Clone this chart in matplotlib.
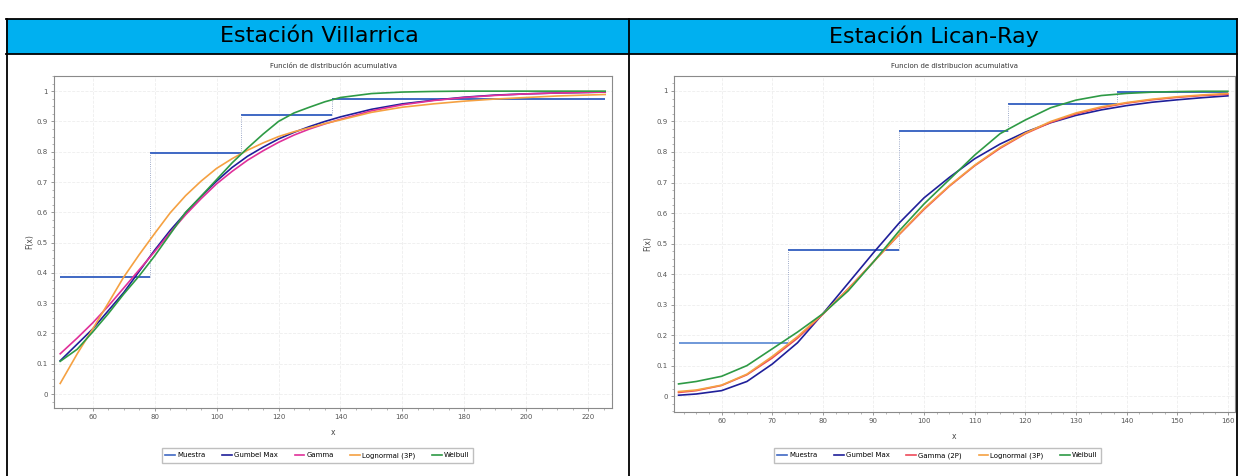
import matplotlib
matplotlib.use("Agg")
import matplotlib.pyplot as plt
from matplotlib.ticker import AutoMinorLocator
from matplotlib.patches import Rectangle
from matplotlib.lines import Line2D

# ---------------- data ----------------
headers = ["Estación Villarrica", "Estación Lican-Ray"]
titles = ["Función de distribución acumulativa", "Funcion de distribucion acumulativa"]
labels_v = ["Muestra", "Gumbel Max", "Gamma", "Lognormal (3P)", "Weibull"]
labels_l = ["Muestra", "Gumbel Max", "Gamma (2P)", "Lognormal (3P)", "Weibull"]

# Villarrica
v_x = [49.5, 55, 60, 65, 70, 75, 80, 85, 90, 95, 100, 105, 110, 115, 120, 125, 130, 135,
       140, 150, 160, 170, 180, 190, 200, 210, 225.5]
v_gumbel = [0.11, 0.165, 0.215, 0.275, 0.335, 0.405, 0.475, 0.54, 0.598, 0.652, 0.703,
            0.748, 0.785, 0.815, 0.842, 0.864, 0.883, 0.9, 0.915, 0.94, 0.958, 0.97, 0.98,
            0.987, 0.991, 0.994, 0.997]
v_gamma = [0.133, 0.185, 0.235, 0.29, 0.35, 0.41, 0.47, 0.533, 0.592, 0.645, 0.694,
           0.735, 0.772, 0.803, 0.831, 0.855, 0.875, 0.892, 0.907, 0.935, 0.955, 0.969,
           0.979, 0.986, 0.991, 0.994, 0.997]
v_lognorm = [0.035, 0.133, 0.215, 0.3, 0.386, 0.46, 0.53, 0.598, 0.655, 0.703, 0.745,
             0.777, 0.805, 0.829, 0.85, 0.866, 0.879, 0.893, 0.905, 0.93, 0.947, 0.958,
             0.967, 0.974, 0.979, 0.984, 0.989]
v_weibull = [0.108, 0.148, 0.205, 0.265, 0.33, 0.39, 0.456, 0.528, 0.6, 0.653, 0.708,
             0.763, 0.812, 0.858, 0.9, 0.928, 0.947, 0.965, 0.979, 0.992, 0.997, 0.999,
             1.0, 1.0, 1.0, 1.0, 1.0]
v_step_edges = [49.4, 78.5, 108.0, 137.3, 225.5]
v_step_vals = [0.386, 0.796, 0.922, 0.975]
v_xticks = [60, 80, 100, 120, 140, 160, 180, 200, 220]

# Lican-Ray
l_x = [51.5, 55, 60, 65, 70, 75, 80, 85, 90, 95, 100, 105, 110, 115, 120, 125,
       130, 135, 140, 145, 150, 155, 160]
l_gumbel = [0.003, 0.007, 0.018, 0.048, 0.105, 0.175, 0.27, 0.37, 0.47, 0.566, 0.65,
            0.717, 0.778, 0.826, 0.865, 0.896, 0.92, 0.938, 0.952, 0.963, 0.971, 0.978, 0.984]
l_gamma = [0.012, 0.018, 0.035, 0.07, 0.125, 0.19, 0.268, 0.352, 0.44, 0.528, 0.612,
           0.688, 0.755, 0.812, 0.86, 0.897, 0.925, 0.945, 0.96, 0.971, 0.979, 0.985, 0.989]
l_lognorm = [0.015, 0.02, 0.036, 0.072, 0.13, 0.195, 0.27, 0.35, 0.44, 0.53, 0.615,
             0.69, 0.757, 0.815, 0.862, 0.9, 0.928, 0.948, 0.962, 0.973, 0.981, 0.987, 0.992]
l_weibull = [0.04, 0.048, 0.065, 0.1, 0.155, 0.21, 0.27, 0.345, 0.44, 0.54, 0.63,
             0.71, 0.79, 0.86, 0.905, 0.945, 0.97, 0.985, 0.992, 0.996, 0.998, 0.999, 0.999]
l_step_edges = [51.5, 73.2, 95.0, 116.5, 138.1, 160.0]
l_step_vals = [0.173, 0.479, 0.870, 0.957, 0.997]
l_xticks = [60, 70, 80, 90, 100, 110, 120, 130, 140, 150, 160]

yticks = [0, 0.1, 0.2, 0.3, 0.4, 0.5, 0.6, 0.7, 0.8, 0.9, 1.0]
ytick_labels = ["0", "0.1", "0.2", "0.3", "0.4", "0.5", "0.6", "0.7", "0.8", "0.9", "1"]

# ---------------- styles ----------------
C_MUESTRA = "#3f68c4"
C_MUESTRA_LIGHT = "#6f98d8"
C_GUMBEL = "#1f1f9a"
C_GAMMA_V = "#e0309a"
C_GAMMA_L = "#ee4a5a"
C_LOGN = "#f5a142"
C_WEIB = "#2e9a45"

W, H = 1243, 476
fig = plt.figure(figsize=(W / 100, H / 100), dpi=100)
fig.patch.set_facecolor("white")


def fx(px):
    return px / W


def fy(py):
    return 1 - py / H


# ---------------- table frame ----------------
fig.add_artist(Rectangle((fx(6), fy(53.5)), fx(1237) - fx(6), (53.5 - 19) / H,
                         transform=fig.transFigure, facecolor="#00b0f0", edgecolor="none"))
for yy in (19, 53.5):
    fig.add_artist(Line2D([fx(6), fx(1237)], [fy(yy), fy(yy)], color="black", lw=1.3,
                          transform=fig.transFigure))
for xx in (6.5, 629, 1236.5):
    fig.add_artist(Line2D([fx(xx), fx(xx)], [fy(19), fy(476)], color="black", lw=1.3,
                          transform=fig.transFigure))
fig.text(fx(319), fy(36.5), headers[0], ha="center", va="center", fontsize=16,
         family="DejaVu Sans", color="black")
fig.text(fx(934), fy(36.5), headers[1], ha="center", va="center", fontsize=16,
         family="DejaVu Sans", color="black")


def style_axes(ax, xlim, ylim, xticks):
    ax.set_xlim(*xlim)
    ax.set_ylim(*ylim)
    ax.set_xticks(xticks)
    ax.set_xticklabels([str(t) for t in xticks])
    ax.set_yticks(yticks)
    ax.set_yticklabels(ytick_labels)
    ax.xaxis.set_minor_locator(AutoMinorLocator(4))
    ax.yaxis.set_minor_locator(AutoMinorLocator(4))
    ax.tick_params(which="major", labelsize=5, colors="#888888", labelcolor="#555555",
                   length=2.5, width=0.6, pad=2)
    ax.tick_params(which="minor", colors="#999999", length=1.5, width=0.5)
    for s in ax.spines.values():
        s.set_color("#8a8a8a")
        s.set_linewidth(0.8)
    ax.grid(True, which="major", color="#eeeeee", lw=0.6, ls="--")
    ax.set_axisbelow(True)


def draw_panel(ax, x, curves, colors, labels, edges, vals, step_colors):
    ax.hlines(vals, edges[:-1], edges[1:], colors=step_colors, lw=1.4, label=labels[0])
    ax.vlines(edges[1:-1], vals[:-1], vals[1:], colors="#7f8fb8", lw=0.6, linestyles=":")
    handles = [Line2D([], [], color=C_MUESTRA, lw=1.2)]
    for c, col in zip(curves, colors):
        ln, = ax.plot(x, c, color=col, lw=1.2)
        handles.append(ln)
    return handles


LEG_KW = dict(loc="center", ncol=5, fontsize=5, frameon=True, fancybox=False,
              edgecolor="#b0b0b0", handlelength=1.4, handletextpad=0.3,
              columnspacing=2.4, borderpad=0.55)

# ---------------- left panel ----------------
ax1 = fig.add_axes([fx(54), fy(408), (612 - 54) / W, (408 - 76) / H])
style_axes(ax1, (47.5, 227.7), (-0.046, 1.05), v_xticks)
h1 = draw_panel(ax1, v_x, [v_gumbel, v_gamma, v_lognorm, v_weibull],
                [C_GUMBEL, C_GAMMA_V, C_LOGN, C_WEIB], labels_v,
                v_step_edges, v_step_vals, [C_MUESTRA] * 4)
ax1.text(0.5, (408 - 66) / 332, titles[0], transform=ax1.transAxes, ha="center",
         va="center", fontsize=5, color="#333333")
ax1.set_ylabel("F(x)", fontsize=5.5, color="#444444")
ax1.yaxis.set_label_coords((34 - 54) / 558, 0.5)
ax1.set_xlabel("x", fontsize=5.5, color="#444444")
ax1.xaxis.set_label_coords(0.5, (408 - 428) / 332)
fig.legend(h1, labels_v, bbox_to_anchor=(fx(317.5), fy(455.5)),
           bbox_transform=fig.transFigure, **LEG_KW)

# ---------------- right panel ----------------
ax2 = fig.add_axes([fx(674), fy(412), (1235 - 674) / W, (412 - 76) / H])
style_axes(ax2, (50.6, 161.4), (-0.052, 1.049), l_xticks)
h2 = draw_panel(ax2, l_x, [l_gumbel, l_gamma, l_lognorm, l_weibull],
                [C_GUMBEL, C_GAMMA_L, C_LOGN, C_WEIB], labels_l,
                l_step_edges, l_step_vals, [C_MUESTRA_LIGHT] + [C_MUESTRA] * 4)
ax2.text(0.5, (412 - 66) / 336, titles[1], transform=ax2.transAxes, ha="center",
         va="center", fontsize=5, color="#333333")
ax2.set_ylabel("F(x)", fontsize=5.5, color="#444444")
ax2.yaxis.set_label_coords((652 - 674) / 561, 0.5)
ax2.set_xlabel("x", fontsize=5.5, color="#444444")
ax2.xaxis.set_label_coords(0.5, (412 - 432) / 336)
fig.legend(h2, labels_l, bbox_to_anchor=(fx(937.5), fy(455.5)),
           bbox_transform=fig.transFigure, **LEG_KW)

fig.savefig("out.png", dpi=100, facecolor="white")
